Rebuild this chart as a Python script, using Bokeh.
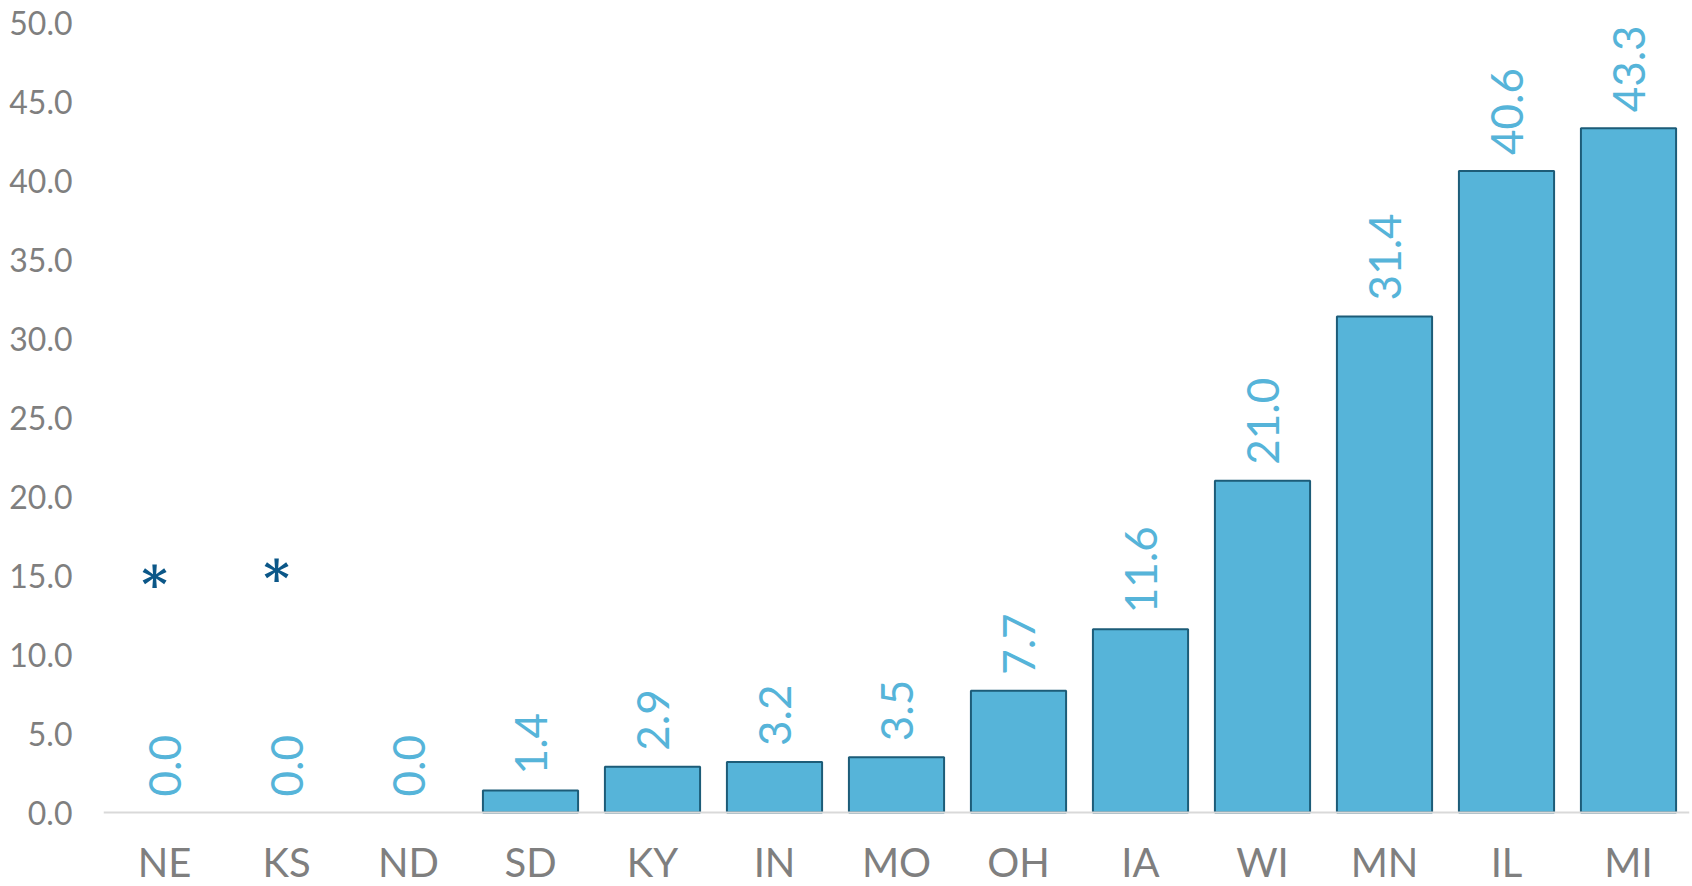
import math
from bokeh.plotting import figure
from bokeh.models import ColumnDataSource, Range1d, FactorRange, FixedTicker, NumeralTickFormatter, Span
from bokeh.core.properties import value
from bokeh.embed import file_html
from bokeh.resources import INLINE

states = ["NE", "KS", "ND", "SD", "KY", "IN", "MO", "OH", "IA", "WI", "MN", "IL", "MI"]
values = [0.0, 0.0, 0.0, 1.4, 2.9, 3.2, 3.5, 7.7, 11.6, 21.0, 31.4, 40.6, 43.3]
y_ticks = [0, 5, 10, 15, 20, 25, 30, 35, 40, 45, 50]
star_states = ["NE", "KS"]
star_y = [14.4, 14.8]

FONT = "Lato"
GRAY = "#7F7F7F"
BAR = "#56B4D9"
EDGE = "#1D5C78"
LABEL = "#56B4D9"
STAR = "#0B5788"

src = ColumnDataSource(dict(state=states, val=values, lab=["%.1f" % v for v in values],
                            zero=[0.0] * len(states),
                            edge=[EDGE if v > 0 else None for v in values]))

# frame: 50 at 22px from top, 0 at 812px; extend below 0 so the category names fit in the frame
y_bottom = -50 * (886 - 812) / (812 - 22)

p = figure(width=1692, height=886, x_range=FactorRange(*states, range_padding=0),
           y_range=Range1d(y_bottom, 50), output_backend="svg", toolbar_location=None,
           min_border_left=103, min_border_right=3, min_border_top=22, min_border_bottom=0)
p.outline_line_color = None
p.background_fill_color = "white"
p.border_fill_color = "white"
p.xgrid.grid_line_color = None
p.ygrid.grid_line_color = None

p.vbar(x="state", top="val", width=0.78, source=src, fill_color=BAR, line_color="edge", line_width=2)

p.add_layout(Span(location=0, dimension="width", line_color="#D9D9D9", line_width=2))

p.text(x="state", y="val", text="lab", source=src, angle=math.pi / 2, text_align="left",
       text_baseline="middle", y_offset=-16, text_color=LABEL, text_font=value(FONT),
       text_font_size="44px")

# category names under the baseline
p.text(x="state", y="zero", text="state", source=src, text_align="center",
       text_baseline="middle", y_offset=49, text_color=GRAY, text_font=value(FONT),
       text_font_size="40px")

p.text(x=star_states, y=star_y, text=["*", "*"], x_offset=-10, text_align="center",
       text_baseline="middle", text_color=STAR, text_font=value("DejaVu Serif"),
       text_font_size="50px", text_font_style="bold")

ya = p.yaxis[0]
ya.ticker = FixedTicker(ticks=y_ticks)
ya.formatter = NumeralTickFormatter(format="0.0")
ya.axis_line_color = None
ya.major_tick_line_color = None
ya.minor_tick_line_color = None
ya.major_tick_out = 0
ya.minor_tick_out = 0
ya.major_label_text_font = FONT
ya.major_label_text_font_size = "32px"
ya.major_label_text_color = GRAY
ya.major_label_standoff = 31

p.xaxis.visible = False

open("out.html", "w").write(file_html(p, INLINE))
